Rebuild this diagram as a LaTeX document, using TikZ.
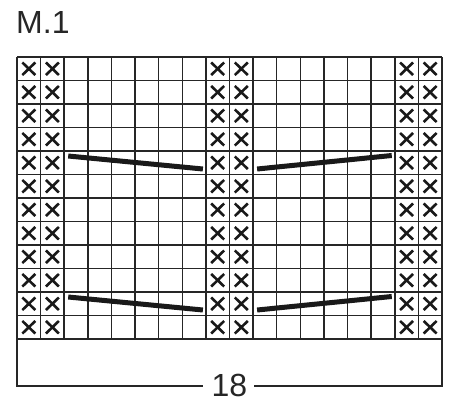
\documentclass[tikz,border=0pt]{standalone}
\usepackage{fontspec}
\setmainfont{Liberation Sans}
\begin{document}
\begin{tikzpicture}[x=1pt,y=-1pt,
  gridline/.style={line width=1.5pt,draw=black!85},
  xmark/.style={line width=2.6pt,draw=black!90},
  cable/.style={line width=5pt,draw=black!90},
  bracket/.style={line width=2pt,draw=black!85},
  lbl/.style={font=\fontsize{32}{36}\selectfont,inner sep=0pt,text=black!85}]
\useasboundingbox (0,0) rectangle (458,413);
\def\xo{17}\def\yo{57}\def\cw{23.61}\def\rh{23.5}
% title
\node[lbl,anchor=base west] (title) at (16,33) {M.1};
% grid
\foreach \i in {0,...,18} \draw[gridline] (\xo+\i*\cw,\yo) -- (\xo+\i*\cw,\yo+12*\rh);
\foreach \j in {0,...,12} \draw[gridline] (\xo,\yo+\j*\rh) -- (\xo+18*\cw,\yo+\j*\rh);
% crosses
\foreach \c in {1,2,9,10,17,18}
  \foreach \r in {1,...,12}
    \draw[xmark] (\xo+\c*\cw-0.5*\cw-6.5,\yo+\r*\rh-0.5*\rh-6.3) -- ++(13,12.6)
                 (\xo+\c*\cw-0.5*\cw+6.5,\yo+\r*\rh-0.5*\rh-6.3) -- ++(-13,12.6);
% cable lines
\foreach \r in {5,11} {
  \coordinate (la\r) at (\xo+2*\cw+4,\yo+\r*\rh-\rh+5);
  \coordinate (lb\r) at (\xo+8*\cw-3,\yo+\r*\rh-5.5);
  \coordinate (ra\r) at (\xo+10*\cw+4,\yo+\r*\rh-5.5);
  \coordinate (rb\r) at (\xo+16*\cw-3,\yo+\r*\rh-\rh+4.5);
  \draw[cable] (la\r) -- (lb\r);
  \draw[cable] (ra\r) -- (rb\r);
}
% bracket
\node[lbl,anchor=base] (n18) at (229.5,396.5) {18};
\coordinate (bl) at (\xo,\yo+12*\rh);
\coordinate (br) at (\xo+18*\cw,\yo+12*\rh);
\draw[bracket] (bl) -- (\xo,386) -- (203,386);
\draw[bracket] (br) -- (\xo+18*\cw,386) -- (254,386);
\end{tikzpicture}
\end{document}
